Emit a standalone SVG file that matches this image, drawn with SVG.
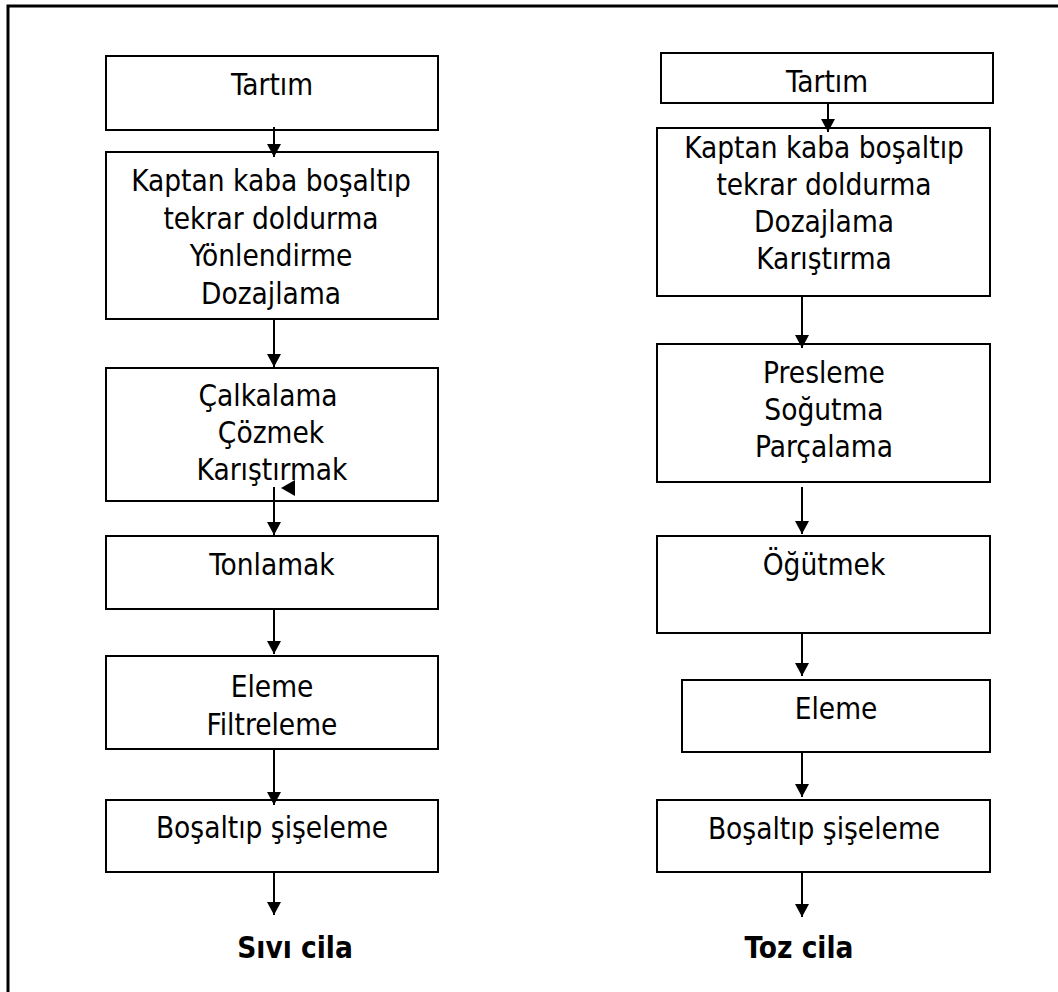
<svg xmlns="http://www.w3.org/2000/svg" width="1058" height="992" viewBox="0 0 1058 992">
<style>
.box{fill:#fff;stroke:#000;stroke-width:2}
.t{font-family:"DejaVu Sans Condensed","DejaVu Sans",sans-serif;font-stretch:condensed;font-size:29.5px;fill:#000;text-anchor:middle}
.b{font-family:"DejaVu Sans Condensed","DejaVu Sans",sans-serif;font-stretch:condensed;font-weight:bold;font-size:29.5px;fill:#000;text-anchor:middle}
.c{stroke:#000;stroke-width:2;fill:none;marker-end:url(#ah)}
</style>
<defs>
<marker id="ah" markerUnits="userSpaceOnUse" markerWidth="13" markerHeight="14" viewBox="0 0 13 14" refX="13" refY="7" orient="auto">
<path d="M0,0 L13,7 L0,14 z" fill="#000"/>
</marker>
</defs>
<rect width="1058" height="992" fill="#fff"/>
<rect x="8" y="6" width="1060" height="1000" fill="none" stroke="#000" stroke-width="3"/>

<g id="l1"><rect class="box" x="106" y="56" width="332" height="74"/><text class="t" x="272" y="95">Tartım</text></g>
<g id="l2"><rect class="box" x="106" y="152" width="332" height="167"/>
<text class="t" x="271" y="191">Kaptan kaba boşaltıp</text>
<text class="t" x="271" y="228.5">tekrar doldurma</text>
<text class="t" x="271" y="266">Yönlendirme</text>
<text class="t" x="271" y="303.5">Dozajlama</text></g>
<g id="l3"><rect class="box" x="106" y="368" width="332" height="133"/>
<text class="t" x="268" y="406">Çalkalama</text>
<text class="t" x="271" y="443">Çözmek</text>
<text class="t" x="272" y="480">Karıştırmak</text></g>
<g id="l4"><rect class="box" x="106" y="536" width="332" height="73"/><text class="t" x="272" y="575">Tonlamak</text></g>
<g id="l5"><rect class="box" x="106" y="656" width="332" height="93"/>
<text class="t" x="272" y="697">Eleme</text>
<text class="t" x="272" y="735">Filtreleme</text></g>
<g id="l6"><rect class="box" x="106" y="800" width="332" height="72"/><text class="t" x="272" y="838">Boşaltıp şişeleme</text></g>
<g id="l7"><text class="b" x="295" y="958">Sıvı cila</text></g>

<g id="r1"><rect class="box" x="661" y="53" width="332" height="50"/><text class="t" x="827" y="92">Tartım</text></g>
<g id="r2"><rect class="box" x="657" y="128" width="333" height="168"/>
<text class="t" x="824" y="158">Kaptan kaba boşaltıp</text>
<text class="t" x="824" y="195">tekrar doldurma</text>
<text class="t" x="824" y="232">Dozajlama</text>
<text class="t" x="824" y="269">Karıştırma</text></g>
<g id="r3"><rect class="box" x="657" y="344" width="333" height="138"/>
<text class="t" x="824" y="383">Presleme</text>
<text class="t" x="824" y="420">Soğutma</text>
<text class="t" x="824" y="457">Parçalama</text></g>
<g id="r4"><rect class="box" x="657" y="536" width="333" height="97"/><text class="t" x="824" y="575">Öğütmek</text></g>
<g id="r5"><rect class="box" x="682" y="680" width="308" height="72"/><text class="t" x="836" y="719">Eleme</text></g>
<g id="r6"><rect class="box" x="657" y="800" width="333" height="72"/><text class="t" x="824" y="839">Boşaltıp şişeleme</text></g>
<g id="r7"><text class="b" x="799" y="958">Toz cila</text></g>

<g id="connectors">
<line class="c" x1="274" y1="127" x2="274" y2="157"/>
<line class="c" x1="274" y1="319" x2="274" y2="367"/>
<line class="c" x1="274" y1="487" x2="274" y2="535"/>
<polygon points="281,488 295,480 295,496" fill="#000"/>
<line class="c" x1="274" y1="609" x2="274" y2="654"/>
<line class="c" x1="274" y1="749" x2="274" y2="805"/>
<line class="c" x1="274" y1="872" x2="274" y2="915"/>
<line class="c" x1="828" y1="103" x2="828" y2="132"/>
<line class="c" x1="802" y1="296" x2="802" y2="348"/>
<line class="c" x1="802" y1="487" x2="802" y2="534"/>
<line class="c" x1="802" y1="632" x2="802" y2="676"/>
<line class="c" x1="802" y1="752" x2="802" y2="797"/>
<line class="c" x1="802" y1="872" x2="802" y2="917"/>
</g>
</svg>
